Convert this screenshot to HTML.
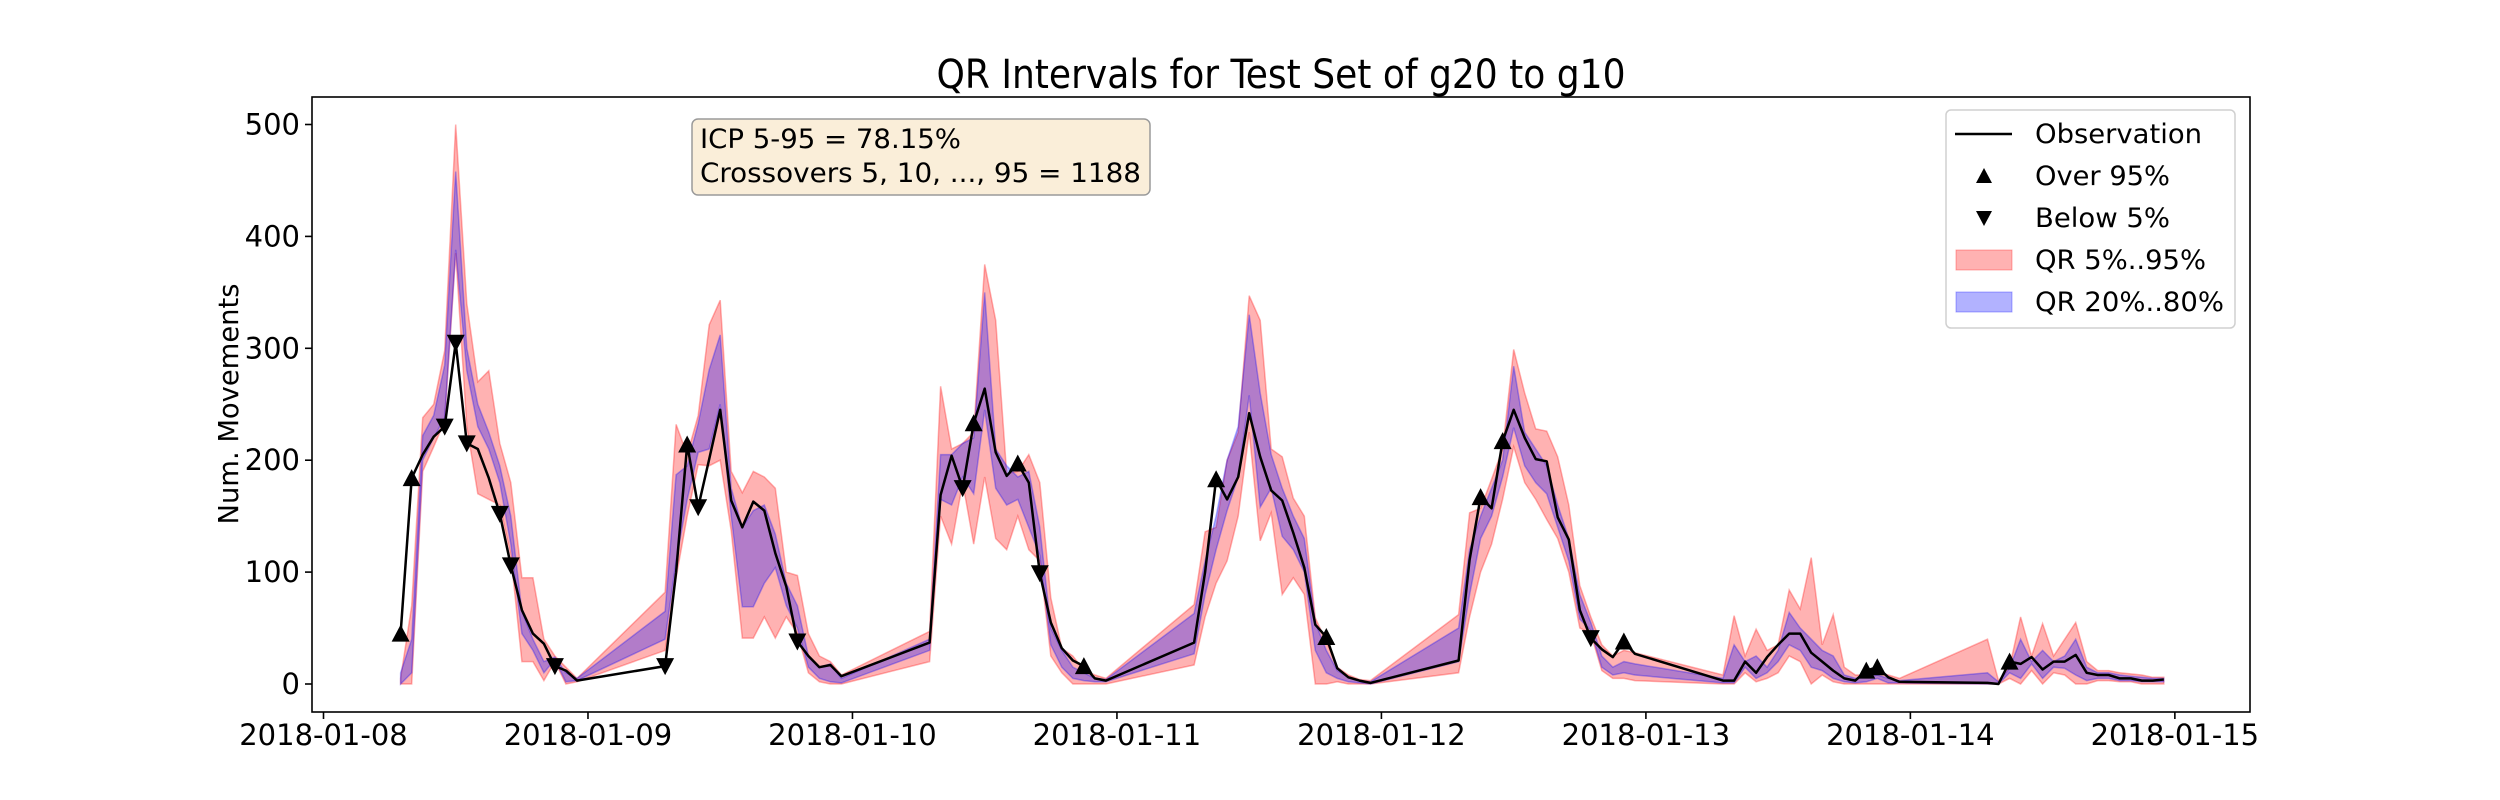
<!DOCTYPE html>
<html><head><meta charset="utf-8"><style>
html,body{margin:0;padding:0;background:#fff}
svg{display:block}
.tk{font-family:"DejaVu Sans","Liberation Sans",sans-serif;font-size:29px;fill:#000}
.cn{font-family:"DejaVu Sans Condensed","Liberation Sans Narrow","Liberation Sans",sans-serif;fill:#000}
</style></head><body>
<svg id="chart" width="2500" height="800" viewBox="0 0 2500 800" xmlns="http://www.w3.org/2000/svg">
<rect width="2500" height="800" fill="#fff"/>
<text class="cn" x="1281" y="88" text-anchor="middle" font-size="40" textLength="689" lengthAdjust="spacingAndGlyphs">QR Intervals for Test Set of g20 to g10</text>
<g id="plot"></g>
<g id="axes"></g>
<text class="cn" transform="translate(238,404) rotate(-90)" text-anchor="middle" font-size="28" textLength="241" lengthAdjust="spacingAndGlyphs">Num. Movements</text>
<g>
<rect x="692" y="119" width="458" height="76" rx="6" fill="#faeed9" stroke="#9a9a9a" stroke-width="1.5"/>
<text class="cn" x="700" y="148" font-size="27" textLength="261" lengthAdjust="spacingAndGlyphs">ICP 5-95 = 78.15%</text>
<text class="cn" x="700" y="182" font-size="27" textLength="441" lengthAdjust="spacingAndGlyphs">Crossovers 5, 10, ..., 95 = 1188</text>
</g>
<g>
<rect x="1946" y="110" width="289" height="218" rx="5" fill="#fff" fill-opacity="0.8" stroke="#d0d0d0" stroke-width="1.5"/>
<g><line x1="1955" y1="134" x2="2012" y2="134" stroke="#000" stroke-width="2.5"/><text class="cn" x="2035" y="143" font-size="27" textLength="167" lengthAdjust="spacingAndGlyphs">Observation</text></g>
<g><path d="M1984 168 L1992 183 L1976 183 Z" fill="#000"/><text class="cn" x="2035" y="185" font-size="27" textLength="135" lengthAdjust="spacingAndGlyphs">Over 95%</text></g>
<g><path d="M1976 211 L1992 211 L1984 226 Z" fill="#000"/><text class="cn" x="2035" y="227" font-size="27" textLength="135" lengthAdjust="spacingAndGlyphs">Below 5%</text></g>
<g><rect x="1956" y="250" width="56" height="20" fill="#ff0000" fill-opacity="0.3" stroke="#ff0000" stroke-opacity="0.3"/><text class="cn" x="2035" y="269" font-size="27" textLength="171" lengthAdjust="spacingAndGlyphs">QR 5%..95%</text></g>
<g><rect x="1956" y="292" width="56" height="20" fill="#0000ff" fill-opacity="0.3" stroke="#0000ff" stroke-opacity="0.3"/><text class="cn" x="2035" y="311" font-size="27" textLength="189" lengthAdjust="spacingAndGlyphs">QR 20%..80%</text></g>
</g>
</svg>
<script>
// hours since 2018-01-08 00:00
const hours = [7,8,9,10,11,12,13,14,15,16,17,18,19,20,21,22,23,
31,32,33,34,35,36,37,38,39,40,41,42,43,44,45,46,47,
55,56,57,58,59,60,61,62,63,64,65,66,67,68,69,70,71,
79,80,81,82,83,84,85,86,87,88,89,90,91,92,93,94,95,
103,104,105,106,107,108,109,110,111,112,113,114,115,116,117,118,119,
127,128,129,130,131,132,133,134,135,136,137,138,139,140,141,142,143,
151,152,153,154,155,156,157,158,159,160,161,162,163,164,165,166,167];
const obs = [45,184,205,221,230,305,215,210,184,152,106,66,45,36,16,12,3,
16,100,214,158,201,245,164,140,163,155,117,87,38,25,15,17,7,
37,169,204,175,233,264,207,186,197,180,99,55,32,21,16,5,3,
37,100,183,165,185,242,203,173,164,135,104,53,42,14,6,3,1,
21,111,167,157,217,245,220,201,199,149,129,66,41,31,24,38,27,
3,3,20,10,24,35,45,45,28,20,12,5,3,12,15,6,2,
1,0,20,18,24,13,20,20,26,10,8,8,5,5,3,3,4];
const q5 = [0,0,190,212,235,385,230,170,165,160,115,20,20,3,20,0,2,
30,95,150,196,195,200,137,41,41,60,41,60,45,10,2,0,0,
20,150,125,180,125,185,130,120,150,120,110,25,10,0,0,0,0,
17,60,90,110,150,225,128,153,80,95,80,0,0,2,0,0,0,
10,60,100,125,165,212,180,165,147,130,100,50,45,12,5,5,3,
0,0,10,2,5,10,25,20,0,8,2,0,0,0,0,0,0,
0,0,5,0,12,0,10,8,0,0,3,3,2,2,0,0,0];
const q20 = [0,10,200,220,238,388,280,230,210,180,125,45,30,10,22,2,3,
40,110,165,207,210,250,150,69,69,90,104,70,50,15,5,2,1,
30,165,160,185,170,245,175,160,165,140,115,35,15,5,3,2,2,
27,80,120,155,185,258,158,175,132,120,100,30,10,5,2,1,0,
20,80,130,150,185,229,195,180,170,140,110,58,48,15,8,10,8,
1,1,15,5,10,20,35,30,15,12,5,2,1,2,5,1,1,
0,0,10,5,18,5,15,14,8,3,5,5,3,3,2,2,2];
const q80 = [10,40,222,240,285,458,300,250,225,195,150,65,40,20,24,10,5,
65,187,195,233,281,312,175,140,155,160,134,90,70,25,15,18,5,
40,205,205,215,220,350,210,195,185,190,140,50,30,15,10,5,4,
63,110,150,200,230,330,260,205,175,150,130,55,30,12,6,3,2,
50,120,150,175,200,284,225,210,195,160,130,80,55,25,15,20,18,
5,35,20,25,15,30,64,50,40,30,25,8,5,6,8,5,3,
10,2,14,40,20,30,20,25,40,15,10,10,8,7,6,5,5];
const q95 = [5,70,238,250,298,500,340,270,280,215,180,95,95,40,25,15,5,
82,232,205,240,321,343,190,171,190,185,175,100,97,45,25,20,8,
47,266,210,215,225,375,325,188,190,205,180,77,32,25,12,8,5,
71,136,140,200,225,347,325,210,203,166,150,59,38,15,8,4,3,
62,153,157,183,210,299,260,228,226,203,160,88,60,35,25,30,28,
8,61,25,49,30,35,84,67,113,35,62,15,8,8,10,8,5,
40,3,15,60,25,54,25,40,55,20,12,12,10,9,8,6,6];
const yTicks = [0,100,200,300,400,500];
const xTickLabels = ["2018-01-08","2018-01-09","2018-01-10","2018-01-11","2018-01-12","2018-01-13","2018-01-14","2018-01-15"];

const NS = "http://www.w3.org/2000/svg";
const L = 312, R = 2250, T = 97, B = 712;
const xs = h => 323.5 + h * 11.02;
const ys = v => 684 - v * 1.119;
const plot = document.getElementById('plot');
const axes = document.getElementById('axes');
function mk(tag, attrs, parent) {
  const e = document.createElementNS(NS, tag);
  for (const k in attrs) e.setAttribute(k, attrs[k]);
  parent.appendChild(e);
  return e;
}
function band(lo, hi, color) {
  let d = "M" + hours.map((h, i) => xs(h).toFixed(1) + " " + ys(hi[i]).toFixed(1)).join(" L");
  for (let i = hours.length - 1; i >= 0; i--) d += " L" + xs(hours[i]).toFixed(1) + " " + ys(lo[i]).toFixed(1);
  d += " Z";
  return mk('path', {d: d, fill: color, 'fill-opacity': 0.3, stroke: color, 'stroke-opacity': 0.3, 'stroke-width': 1.5}, plot);
}
const b1 = band(q5, q95, '#ff0000');


const b2 = band(q20, q80, '#0000ff');


const line = mk('path', {d: "M" + hours.map((h, i) => xs(h).toFixed(1) + " " + ys(obs[i]).toFixed(1)).join(" L"), fill: 'none', stroke: '#000', 'stroke-width': 2.5, 'stroke-linejoin': 'round'}, plot);


hours.forEach((h, i) => {
  const x = xs(h), y = ys(obs[i]);
  if (obs[i] > q95[i]) {
    const m = mk('path', {d: `M${x} ${y-9} L${x+9} ${y+8} L${x-9} ${y+8} Z`, fill: '#000'}, plot);
    
    
  } else if (obs[i] < q5[i]) {
    const m = mk('path', {d: `M${x-9} ${y-8} L${x+9} ${y-8} L${x} ${y+9} Z`, fill: '#000'}, plot);
    
    
  }
});
const frame = mk('rect', {x: L, y: T, width: R - L, height: B - T, fill: 'none', stroke: '#000', 'stroke-width': 1.6}, axes);


yTicks.forEach(v => {
  const y = ys(v);
  mk('line', {x1: L - 7, x2: L, y1: y, y2: y, stroke: '#000', 'stroke-width': 1.6}, axes);
  const t = mk('text', {x: L - 12, y: y + 10, 'text-anchor': 'end', class: 'tk'}, axes);
  t.textContent = v;
  
  
});
xTickLabels.forEach((lab, i) => {
  const x = xs(i * 24);
  mk('line', {x1: x, x2: x, y1: B, y2: B + 7, stroke: '#000', 'stroke-width': 1.6}, axes);
  const t = mk('text', {x: x, y: 745, 'text-anchor': 'middle', class: 'tk'}, axes);
  t.textContent = lab;
  
  
});
</script>
</body></html>
